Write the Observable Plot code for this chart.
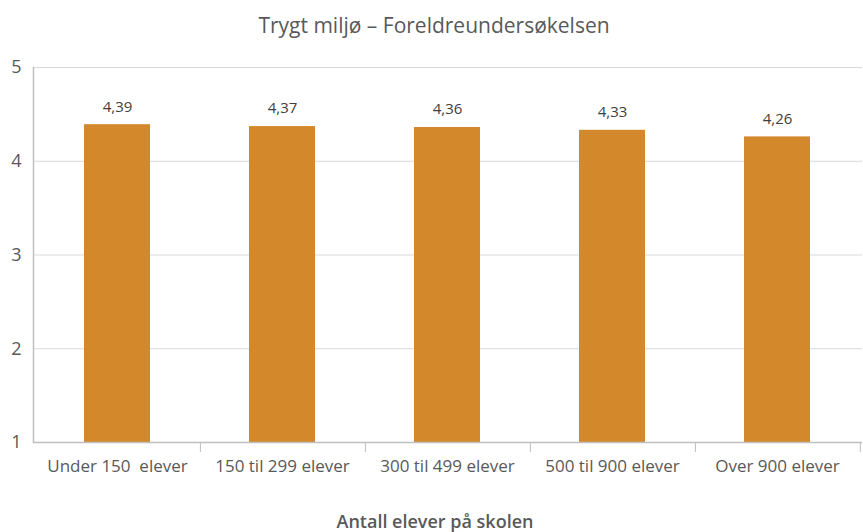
<!DOCTYPE html>
<html>
<head>
<meta charset="utf-8">
<script src="https://cdn.jsdelivr.net/npm/d3@7"></script>
<script src="https://cdn.jsdelivr.net/npm/@observablehq/plot@0.6"></script>
<style>
  html, body { margin: 0; padding: 0; background: #fff; overflow: hidden; }
  body { width: 863px; height: 532px; position: relative; font-family: "Open Sans", sans-serif; }
  #title { position: absolute; top: 11px; left: 0; width: 868px; text-align: center; font-size: 21px; color: #595959; }
  #chart { position: absolute; top: 50px; left: 0; }
  #xtitle { position: absolute; top: 509px; left: 0; width: 870px; text-align: center; font-size: 18px; font-weight: 600; color: #595959; }
  svg text { white-space: pre; }
</style>
</head>
<body>
<div id="title">Trygt miljø – Foreldreundersøkelsen</div>
<div id="chart"></div>
<div id="xtitle">Antall elever på skolen</div>
<script>
const categories = ["Under 150  elever", "150 til 299 elever", "300 til 499 elever", "500 til 900 elever", "Over 900 elever"];
const values = [4.39, 4.37, 4.36, 4.33, 4.26];
const yTicks = [1, 2, 3, 4, 5];
const gridTicks = [2, 3, 4, 5];

const data = categories.map((c, i) => ({category: c, value: values[i]}));

const width = 863, height = 482;
const marginLeft = 33, marginRight = 1, marginTop = 17, marginBottom = 90;
const halfBand = (width - marginLeft - marginRight) / categories.length / 2;
const fmt = d => d.toFixed(2).replace(".", ",");

const chart = Plot.plot({
  width, height, marginLeft, marginRight, marginTop, marginBottom,
  style: {fontFamily: "Open Sans, sans-serif", background: "#fff", overflow: "visible"},
  x: {domain: categories, paddingInner: 0.6, paddingOuter: 0.3, label: null},
  y: {domain: [1, 5], label: null},
  marks: [
    Plot.ruleY(gridTicks, {stroke: "#d9d9d9", strokeWidth: 1}),
    Plot.barY(data, {x: "category", y1: 1, y2: "value", fill: "#d3892b"}),
    Plot.ruleY([1], {stroke: "#bfbfbf", strokeWidth: 1.5}),
    Plot.frame({anchor: "left", stroke: "#bfbfbf", strokeWidth: 1.5}),
    Plot.axisY({ticks: yTicks, tickSize: 0, tickPadding: 12, fontSize: 18, color: "#595959", tickFormat: d => String(d), label: null}),
    Plot.axisX({tickSize: 10, dx: halfBand, tickFormat: () => "", stroke: "#bfbfbf", label: null}),
    Plot.axisX({tickSize: 0, tickPadding: 17, fontSize: 17, color: "#595959", label: null}),
    Plot.text(data, {x: "category", y: "value", text: d => fmt(d.value), dy: -18, fontSize: 15, fill: "#404040"})
  ]
});
document.getElementById("chart").appendChild(chart);
</script>
</body>
</html>
